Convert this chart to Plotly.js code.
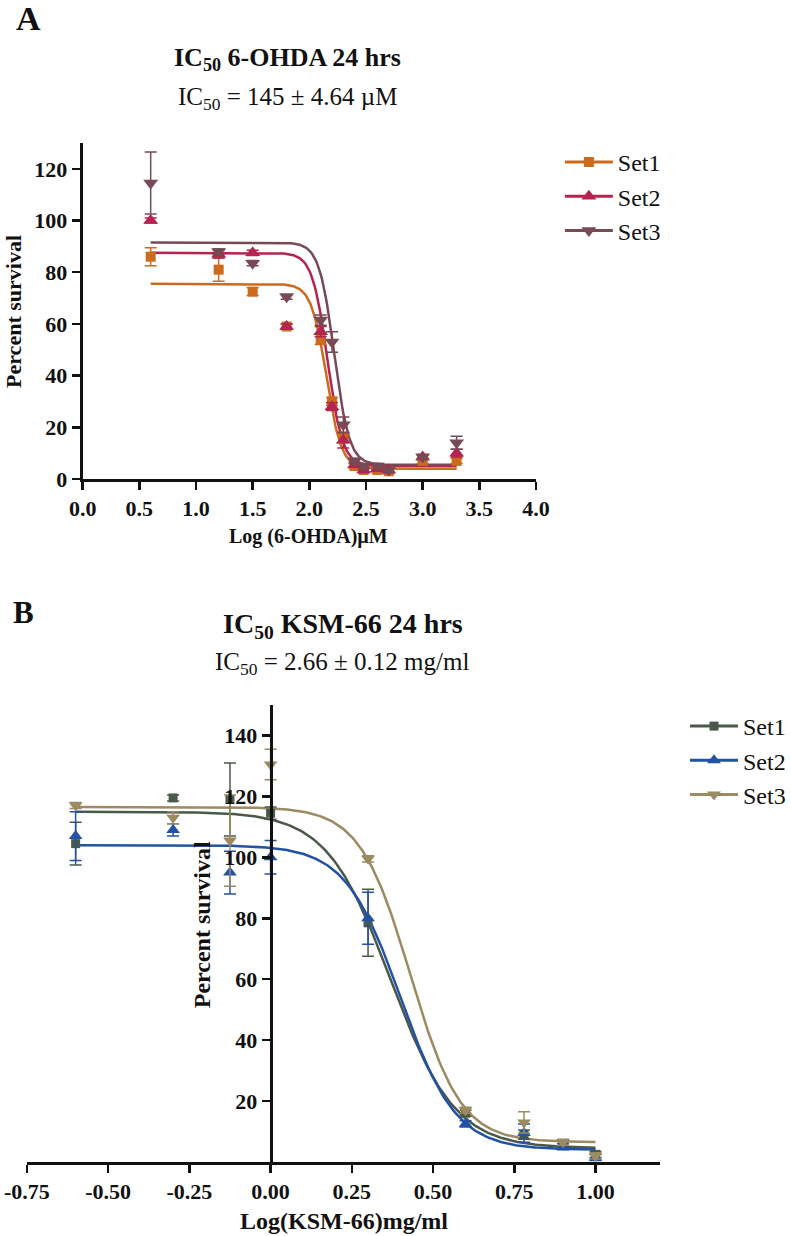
<!DOCTYPE html>
<html>
<head>
<meta charset="utf-8">
<script src="https://cdn.plot.ly/plotly-3.0.1.min.js"></script>
<style>html,body{margin:0;padding:0;background:#fff;}#chart{width:791px;height:1236px;}</style>
</head>
<body>
<div id="chart"></div>
<script>
// ---------- Panel A data: 6-OHDA ----------
const seriesNames = ["Set1", "Set2", "Set3"];
const logDoseA = [0.6, 1.2, 1.5, 1.8, 2.1, 2.2, 2.3, 2.4, 2.48, 2.6, 2.7, 3.0, 3.3];
const set1A = [86, 81, 72.5, 59, 54, 30, 16, 5, 3.5, 3.5, 3, 7, 7];
const set1AErr = [3.5, 4.5, 1.5, 1, 2, 1.5, 2, 1, 1, 1, 1, 1, 1];
const set2A = [100, 87, 87.5, 59, 57, 28, 15, 5.5, 3.5, 4, 3.5, 8.5, 10];
const set2AErr = [1, 1.5, 1, 1, 2, 1.5, 3, 1, 1, 1, 1, 1, 1.5];
const set3A = [114.5, 88, 83.5, 70.5, 61.5, 53, 21, 7, 5, 5, 3.5, 8.5, 14];
const set3AErr = [12, 1, 1, 1, 2, 4, 3, 1, 1, 1, 1, 1, 2.5];
// fitted 4-parameter logistic curves (panel A)
const topA = [75.5, 87.5, 91.5];
const bottomA = [4, 5, 5.5];
const logIC50A = [2.15, 2.16, 2.22];
const hillA = [6.5, 6.5, 6.5];
const xTickValsA = [0, 0.5, 1, 1.5, 2, 2.5, 3, 3.5, 4];
const xTickTextA = ["0.0", "0.5", "1.0", "1.5", "2.0", "2.5", "3.0", "3.5", "4.0"];
const yTickValsA = [0, 20, 40, 60, 80, 100, 120];
const yTickTextA = ["0", "20", "40", "60", "80", "100", "120"];

// ---------- Panel B data: KSM-66 ----------
const logDoseB = [-0.6, -0.3, -0.125, 0, 0.3, 0.6, 0.78, 0.9, 1.0];
const set1B = [104.5, 119.5, 119, 114.5, 78.5, 16, 9, 6, 2.5];
const set1BErr = [7, 1, 12, 2, 11, 1, 1.5, 1, 1];
const set2B = [107, 109, 95, 100, 80, 12.5, 9.5, 5, 1.5];
const set2BErr = [8, 2, 7, 5.5, 8.5, 1, 3, 1, 1];
const set3B = [117, 113, 105.5, 130.5, 99.5, 17, 13, 6.5, 2];
const set3BErr = [1, 2, 15, 5, 1, 1, 3.5, 1, 1];
// fitted 4-parameter logistic curves (panel B)
const topB = [115, 104, 116.5];
const bottomB = [4.5, 4, 6.5];
const logIC50B = [0.37, 0.40, 0.43];
const hillB = [4.4, 5.1, 5.6];
const xTickValsB = [-0.75, -0.5, -0.25, 0, 0.25, 0.5, 0.75, 1.0];
const xTickTextB = ["-0.75", "-0.50", "-0.25", "0.00", "0.25", "0.50", "0.75", "1.00"];
const yTickValsB = [20, 40, 60, 80, 100, 120, 140];
const yTickTextB = ["20", "40", "60", "80", "100", "120", "140"];

// ---------- styling ----------
const W = 791, H = 1236;
const SERIF = "Liberation Serif, Times New Roman, serif";
const colorsA = ["#CC6A1E", "#B3254F", "#784A54"];
const colorsB = ["#4A5A48", "#2152A5", "#9C8A62"];
const symbols = ["square", "triangle-up", "triangle-down"];
const sizesA = [10, 13, 13];
const sizesB = [9, 12, 12];

function fx(px) { return px / W; }
function fy(py) { return 1 - py / H; }

function fitCurve(top, bottom, c, h, x0, x1) {
  const xs = [], ys = [];
  const n = 300;
  for (let i = 0; i <= n; i++) {
    const x = x0 + (x1 - x0) * i / n;
    xs.push(x);
    ys.push(bottom + (top - bottom) / (1 + Math.pow(10, (x - c) * h)));
  }
  return { xs, ys };
}

const traces = [];
function addPanel(xd, ys, errs, tops, bottoms, cs, hs, colors, sizes, xa, ya, legendId) {
  const x0 = Math.min(...xd), x1 = Math.max(...xd);
  for (let i = 0; i < 3; i++) {
    const cv = fitCurve(tops[i], bottoms[i], cs[i], hs[i], x0, x1);
    traces.push({
      type: "scatter", mode: "lines", x: cv.xs, y: cv.ys, xaxis: xa, yaxis: ya,
      line: { color: colors[i], width: 2.5 }, showlegend: false, hoverinfo: "skip",
      cliponaxis: false
    });
  }
  for (let i = 0; i < 3; i++) {
    traces.push({
      type: "scatter", mode: "markers", x: xd, y: ys[i], xaxis: xa, yaxis: ya,
      name: seriesNames[i],
      marker: { symbol: symbols[i], size: sizes[i], color: colors[i] },
      error_y: { type: "data", array: errs[i], visible: true, color: colors[i], thickness: 1.5, width: 6 },
      showlegend: false, cliponaxis: false
    });
  }
  for (let i = 0; i < 3; i++) {
    traces.push({
      type: "scatter", mode: "lines+markers", x: [null], y: [null], xaxis: xa, yaxis: ya,
      name: seriesNames[i], legend: legendId,
      line: { color: colors[i], width: 3 },
      marker: { symbol: symbols[i], size: sizes[i], color: colors[i] },
      showlegend: true
    });
  }
}

addPanel(logDoseA, [set1A, set2A, set3A], [set1AErr, set2AErr, set3AErr],
  topA, bottomA, logIC50A, hillA, colorsA, sizesA, "x", "y", "legend");
addPanel(logDoseB, [set1B, set2B, set3B], [set1BErr, set2BErr, set3BErr],
  topB, bottomB, logIC50B, hillB, colorsB, sizesB, "x2", "y2", "legend2");

const tickFont = { family: SERIF, size: 22, color: "#111", weight: "bold" };
const axisBase = {
  showline: true, linewidth: 3, linecolor: "#111", ticks: "outside", ticklen: 8,
  tickwidth: 2.5, tickcolor: "#111", showgrid: false, zeroline: false,
  tickfont: tickFont, tickmode: "array", fixedrange: true
};

const xDomA = [fx(83), fx(538)], yDomA = [fy(479), fy(143)];
const xDomB = [fx(27), fx(663)], yDomB = [fy(1162), fy(705)];
const xRangeB = [-0.75, 1.2];
const yPosB = xDomB[0] + (0 - xRangeB[0]) / (xRangeB[1] - xRangeB[0]) * (xDomB[1] - xDomB[0]);

const layout = {
  width: W, height: H,
  margin: { l: 0, r: 0, t: 0, b: 0 },
  paper_bgcolor: "#fff", plot_bgcolor: "rgba(0,0,0,0)",
  font: { family: SERIF, color: "#111" },
  xaxis: Object.assign({}, axisBase, { domain: xDomA, range: [0, 4], anchor: "y",
    tickvals: xTickValsA, ticktext: xTickTextA }),
  yaxis: Object.assign({}, axisBase, { domain: yDomA, range: [0, 130], anchor: "x",
    tickvals: yTickValsA, ticktext: yTickTextA }),
  xaxis2: Object.assign({}, axisBase, { domain: xDomB, range: xRangeB, anchor: "y2",
    tickvals: xTickValsB, ticktext: xTickTextB }),
  yaxis2: Object.assign({}, axisBase, { domain: yDomB, range: [0, 150], anchor: "free",
    position: yPosB, tickvals: yTickValsB, ticktext: yTickTextB }),
  legend: {
    x: fx(562), y: fy(140), xanchor: "left", yanchor: "top",
    font: { family: SERIF, size: 24, color: "#111" }, bgcolor: "rgba(0,0,0,0)",
    itemwidth: 48
  },
  legend2: {
    x: fx(688), y: fy(704), xanchor: "left", yanchor: "top",
    font: { family: SERIF, size: 24, color: "#111" }, bgcolor: "rgba(0,0,0,0)",
    itemwidth: 48
  },
  annotations: [
    { text: "<b>A</b>", xref: "paper", yref: "paper", x: fx(14), y: fy(19), xanchor: "left", yanchor: "middle",
      showarrow: false, font: { family: SERIF, size: 34, color: "#111" } },
    { text: "<b>IC<sub>50</sub> 6-OHDA 24 hrs</b>", xref: "paper", yref: "paper", x: fx(289), y: fy(59),
      xanchor: "center", yanchor: "middle", showarrow: false, font: { family: SERIF, size: 26, color: "#111" } },
    { text: "IC<sub>50</sub> = 145 ± 4.64 µM", xref: "paper", yref: "paper", x: fx(289), y: fy(98),
      xanchor: "center", yanchor: "middle", showarrow: false, font: { family: SERIF, size: 25, color: "#111" } },
    { text: "<b>Log (6-OHDA)µM</b>", xref: "paper", yref: "paper", x: fx(310), y: fy(536),
      xanchor: "center", yanchor: "middle", showarrow: false, font: { family: SERIF, size: 20, color: "#111" } },
    { text: "<b>Percent survival</b>", xref: "paper", yref: "paper", x: fx(14), y: fy(311), textangle: -90,
      xanchor: "center", yanchor: "middle", showarrow: false, font: { family: SERIF, size: 22, color: "#111" } },
    { text: "<b>B</b>", xref: "paper", yref: "paper", x: fx(11), y: fy(612), xanchor: "left", yanchor: "middle",
      showarrow: false, font: { family: SERIF, size: 31, color: "#111" } },
    { text: "<b>IC<sub>50</sub> KSM-66 24 hrs</b>", xref: "paper", yref: "paper", x: fx(344), y: fy(625),
      xanchor: "center", yanchor: "middle", showarrow: false, font: { family: SERIF, size: 28, color: "#111" } },
    { text: "IC<sub>50</sub> = 2.66 ± 0.12 mg/ml", xref: "paper", yref: "paper", x: fx(343), y: fy(664),
      xanchor: "center", yanchor: "middle", showarrow: false, font: { family: SERIF, size: 25, color: "#111" } },
    { text: "<b>Log(KSM-66)mg/ml</b>", xref: "paper", yref: "paper", x: fx(345), y: fy(1221),
      xanchor: "center", yanchor: "middle", showarrow: false, font: { family: SERIF, size: 24, color: "#111" } },
    { text: "<b>Percent survival</b>", xref: "paper", yref: "paper", x: fx(203), y: fy(925), textangle: -90,
      xanchor: "center", yanchor: "middle", showarrow: false, font: { family: SERIF, size: 24, color: "#111" } }
  ]
};

Plotly.newPlot("chart", traces, layout, { displayModeBar: false, staticPlot: true });
</script>
</body>
</html>
